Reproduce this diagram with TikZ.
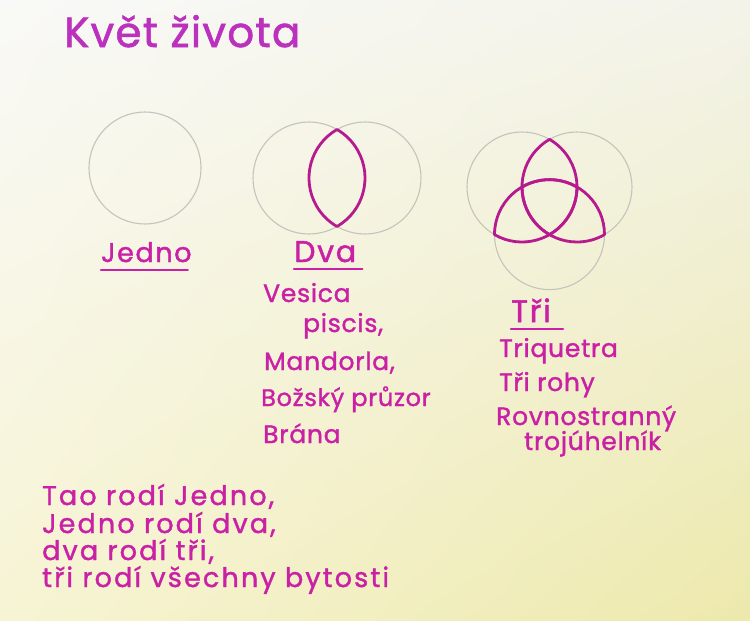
\documentclass[tikz,border=0pt]{standalone}
\usepackage{fontspec}
\setmainfont{Poppins}
\newfontfamily\markerfont{Poppins}[FakeBold=1.4, LetterSpace=3]
\newfontfamily\markerwide{Poppins}[FakeBold=1.4, LetterSpace=8]
\newfontfamily\markerlabel{Poppins}[FakeBold=1.6, LetterSpace=6]
\usetikzlibrary{positioning, shadings}
\usepackage{xcolor}
\definecolor{marker}{RGB}{202, 32, 165}
\definecolor{markertitle}{RGB}{188, 48, 190}
\definecolor{lensink}{RGB}{182, 26, 142}
\definecolor{glass}{RGB}{196, 196, 188}
\definecolor{paperUL}{RGB}{249, 249, 247}
\definecolor{paperUR}{RGB}{243, 243, 234}
\definecolor{paperLL}{RGB}{247, 244, 212}
\definecolor{paperLR}{RGB}{237, 233, 172}

% lens of two equal circles, #1 = first centre, #2 = direction to the second, #3 = radius
\newcommand{\vesica}[3]{%
  \draw[lens] (#1) ++(#2-60:#3) arc[start angle=#2-60, end angle=#2+60, radius=#3]
    arc[start angle=#2+120, end angle=#2+240, radius=#3] -- cycle;}

\begin{document}
\begin{tikzpicture}[
    x=1pt, y=1pt,
    ring/.style={draw=glass, line width=1.1pt},
    lens/.style={draw=lensink, line width=2.8pt, line join=round},
    hand/.style={text=marker, anchor=base west, inner sep=0pt, font=\markerfont\fontsize{25}{30}\selectfont},
    poem/.style={hand, font=\markerwide\fontsize{27}{30}\selectfont},
    label/.style={hand, font=\markerlabel\fontsize{27}{30}\selectfont},
    uline/.style={draw=marker, line width=2.4pt, line cap=round}
]

\shade[upper left=paperUL, upper right=paperUR, lower left=paperLL, lower right=paperLR]
  (0,0) rectangle (750,-621);
\useasboundingbox (0,0) rectangle (750,-621);

\node[hand, text=markertitle, font=\markerfont\fontsize{42}{46}\selectfont] (title) at (64,-47) {Květ života};

% Jedno
\coordinate (one) at (145,-168);
\draw[ring] (one) circle (56);
\node[label] (jedno) at (101,-262) {Jedno};
\draw[uline] ([yshift=-8pt]jedno.base west) -- ([yshift=-8pt, xshift=-4pt]jedno.base east);

% Dva
\coordinate (twoL) at (309,-178);
\coordinate (twoR) at (365,-178);
\draw[ring] (twoL) circle (56);
\draw[ring] (twoR) circle (56);
\vesica{twoL}{0}{56}
\node[label, font=\markerlabel\fontsize{30}{32}\selectfont] (dva) at (294,-262) {Dva};
\draw[uline] ([yshift=-7pt]dva.base west) -- ([yshift=-7pt, xshift=6pt]dva.base east);

\node[hand] (vesicaname) at (263,-302) {Vesica};
\node[hand] (piscis) at (303,-332) {piscis,};
\node[hand] (mandorla) at (264,-370) {Mandorla,};
\node[hand, font=\markerfont\fontsize{24}{30}\selectfont] (bozsky) at (261,-406) {Božský průzor};
\node[hand] (brana) at (263,-443) {Brána};

% Tri
\coordinate (triA) at (522,-187);
\coordinate (triB) at (577,-187);
\coordinate (triC) at (549.5,-234.6);
\draw[ring] (triA) circle (55);
\draw[ring] (triB) circle (55);
\draw[ring] (triC) circle (55);
\vesica{triA}{0}{55}
\vesica{triA}{-60}{55}
\vesica{triB}{-120}{55}
\node[label, font=\markerlabel\fontsize{31}{32}\selectfont] (tri) at (511,-322) {Tři};
\draw[uline] ([yshift=-7pt]tri.base west) -- ([yshift=-7pt, xshift=12pt]tri.base east);

\node[hand] (triquetra) at (499,-357) {Triquetra};
\node[hand] (trirohy) at (499,-391) {Tři rohy};
\node[hand] (rovno) at (496,-425) {Rovnostranný};
\node[hand] (troj) at (524,-450) {trojúhelník};

% Tao
\node[poem] (tao1) at (42,-505) {Tao rodí Jedno,};
\node[poem] (tao2) at (42,-533) {Jedno rodí dva,};
\node[poem] (tao3) at (42,-560) {dva rodí tři,};
\node[poem] (tao4) at (42,-587) {tři rodí všechny bytosti};

\end{tikzpicture}
\end{document}
